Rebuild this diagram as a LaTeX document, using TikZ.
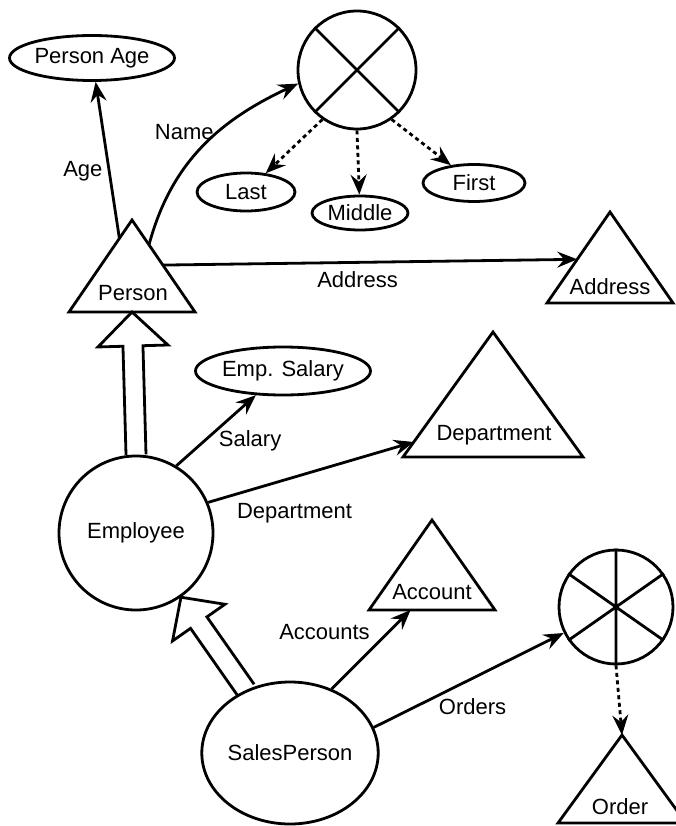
\documentclass[tikz,border=0pt]{standalone}
\usepackage{fontspec}
\setmainfont{Liberation Sans}
\usetikzlibrary{calc,arrows.meta,shapes.geometric}

\tikzset{
  every node/.style={font=\fontsize{22}{25}\selectfont},
  ink/.style={line width=2.8pt},
  oval/.style={ellipse, draw, ink, inner sep=0pt},
  ring/.style={circle, draw, ink, inner sep=0pt},
  rel/.style={line width=2.8pt, -{Stealth[length=20pt,width=16pt,inset=7pt]}},
  part/.style={rel, dash pattern=on 4pt off 3.5pt},
}

% class triangle: name, apex x, apex y, half base, height
\newcommand\classtriangle[5]{%
  \coordinate (#1-a) at (#2,#3);
  \coordinate (#1-l) at ($(#2,#3)+(-#4,#5)$);
  \coordinate (#1-r) at ($(#2,#3)+(#4,#5)$);
  \draw[ink, line join=miter] (#1-a) -- (#1-l) -- (#1-r) -- cycle;
}

% hollow generalisation arrow: tail, tip, head length, head half-width
\newcommand\inheritarrow[4]{%
  \coordinate (ih-h) at ($(#2)!#3!(#1)$);
  \draw[ink, line join=miter]
    ($(#1)!10pt!90:(#2)$) -- ($(ih-h)!10pt!90:(#2)$) -- ($(ih-h)!#4!90:(#2)$)
    -- (#2)
    -- ($(ih-h)!#4!-90:(#2)$) -- ($(ih-h)!10pt!-90:(#2)$) -- ($(#1)!10pt!-90:(#2)$);
}

\begin{document}
\begin{tikzpicture}[x=1pt,y=-1pt]
\useasboundingbox (0,0) rectangle (675,826);

% value types and set nodes
\node[oval, minimum width=165pt, minimum height=45pt] (pa) at (92,58) {Person Age};
\node[ring, minimum size=118pt] (name) at (357,70) {};
\draw[ink] (name.45) -- (name.225) (name.135) -- (name.-45);
\node[oval, minimum width=98pt, minimum height=38pt] (last) at (246,192) {Last};
\node[oval, minimum width=96pt, minimum height=34pt] (middle) at (360,213) {Middle};
\node[oval, minimum width=102pt, minimum height=37pt] (first) at (474,183) {First};
\node[oval, minimum width=175pt, minimum height=48pt] (esal) at (283,371) {Emp. Salary};
\node[ring, minimum size=114pt] (orders) at (616,607) {};
\draw[ink] (orders.90) -- (orders.270) (orders.35) -- (orders.215) (orders.145) -- (orders.-35);

% classes
\node[ring, minimum size=154pt] (emp) at (136,533) {Employee};
\node[oval, minimum width=155pt, minimum height=142pt] (sp) at (290,753) {SalesPerson};

\classtriangle{person}{132}{220}{63}{92}
\node (personlbl) at (133,293) {Person};
\classtriangle{address}{610}{212}{63}{91}
\node (addresslbl) at (610,287) {Address};
\classtriangle{dept}{493}{332}{90}{125}
\node (deptlbl) at (494,435) {Department};
\classtriangle{account}{432}{520}{63}{90}
\node (accountlbl) at (432,592) {Account};
\classtriangle{order}{622}{735}{64}{88}
\node (orderlbl) at (620,807) {Order};

% attributes of Person
\coordinate (agefoot) at ($(person-a)!0.2!(person-l)$);
\draw[rel] (agefoot) -- node[pos=0.43, left, xshift=-2pt] (agelbl) {Age} (pa);
\coordinate (namefoot) at ($(person-a)!0.27!(person-r)$);
\draw[rel] (namefoot) to[out=75,in=205] node[pos=0.6, left] (namelbl) {Name} (name.193);
\draw[part] (name.-125) -- (last);
\draw[part] (name.south) -- (middle);
\draw[part] (name.-55) -- (first);
\coordinate (addrfoot) at ($(person-a)!0.49!(person-r)$);
\coordinate (addrtip) at ($(address-a)!0.52!(address-l)$);
\draw[rel] (addrfoot) -- node[pos=0.47, below=4pt] (addrlbl) {Address} (addrtip);

% Employee
\coordinate (personbase) at ($(person-l)!0.5!(person-r)$);
\coordinate (empcrown) at (emp.north);
\inheritarrow{empcrown}{personbase}{34pt}{35pt}
\draw[rel] (emp.59) -- node[pos=0.35, right, xshift=10pt] (sallbl) {Salary} (esal);
\coordinate (depttip) at ($(dept-a)!0.88!(dept-l)$);
\draw[rel] (emp.23) -- node[pos=0.42, below=22pt] (deptrel) {Department} (depttip);

% SalesPerson
\path (emp) -- coordinate[pos=0] (emplow) coordinate[pos=1] (spcrown) (sp);
\inheritarrow{spcrown}{emplow}{31pt}{32pt}
\coordinate (acctip) at ($(account-l)!0.33!(account-r)$);
\draw[rel] (sp.57) -- node[pos=0.72, left, xshift=-14pt] (acclbl) {Accounts} (acctip);
\draw[rel] (sp.17) -- node[pos=0.52, below=16pt] (ordlbl) {Orders} (orders);
\draw[part] (orders.south) -- (order-a);
\end{tikzpicture}
\end{document}
